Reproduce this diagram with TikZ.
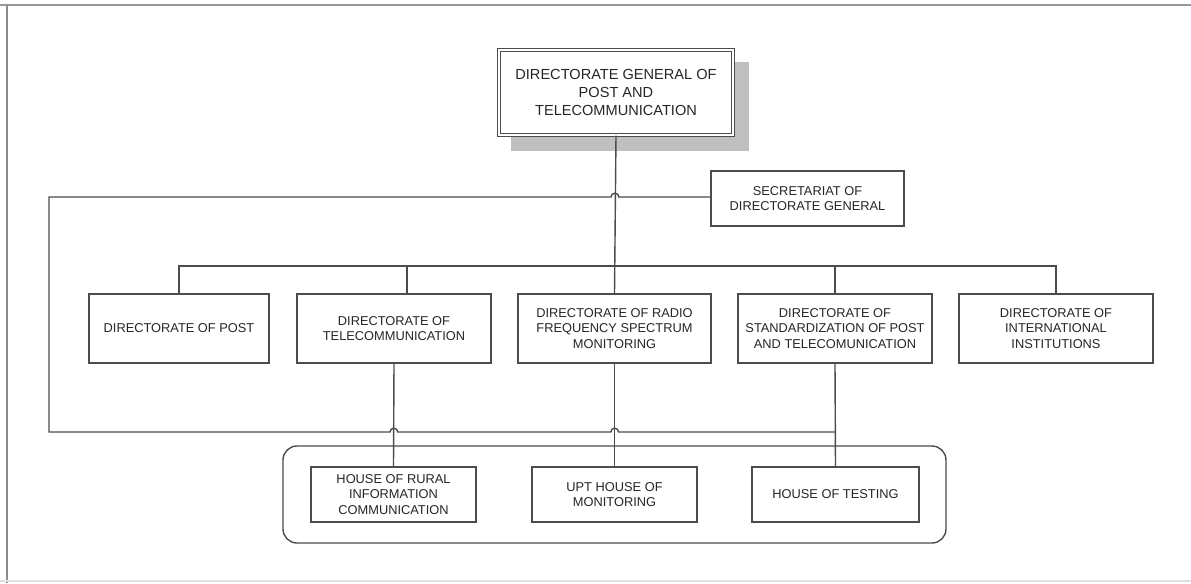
\documentclass[tikz,border=0pt]{standalone}
\usepackage{fontspec}
\setmainfont{Liberation Sans}
\begin{document}
\begin{tikzpicture}[x=0.02cm,y=-0.02cm,
  line width=0.8pt,
  ink/.style={draw=black!70},
  unitbox/.style={ink, fill=white, rectangle, align=center, inner sep=1pt,
    text=black!85, font=\fontsize{7.3}{9}\selectfont},
  headbox/.style={draw=black!70, double, double distance=1.4pt, line width=0.65pt,
    fill=white, rectangle, align=center, text=black!85,
    font=\fontsize{8.3}{10.2}\selectfont},
  link/.style={draw=black!70},
]
\useasboundingbox (0,0) rectangle (1191,583);
% page frame
\draw[black!40, line width=1.3pt] (0,5) -- (1191,5);
\draw[black!45, line width=1.1pt] (7,5) -- (7,583);
\draw[black!12, line width=0.8pt] (0,581) -- (1191,581);

% head of the organisation, with its drop shadow
\fill[black!25] (511,62) rectangle (749,151);
\node[headbox, minimum width=4.68cm, minimum height=1.70cm] (top) at (616,92.5)
  {DIRECTORATE GENERAL OF\\POST AND\\TELECOMMUNICATION};

% secretariat
\node[unitbox, minimum width=3.86cm, minimum height=1.10cm] (sec) at (807.5,198.5)
  {SECRETARIAT OF\\DIRECTORATE GENERAL};

% directorates
\node[unitbox, minimum width=3.60cm, minimum height=1.38cm] (d1) at (179,328.5)
  {DIRECTORATE OF POST};
\node[unitbox, minimum width=3.88cm, minimum height=1.38cm] (d2) at (394,328.5)
  {DIRECTORATE OF\\TELECOMMUNICATION};
\node[unitbox, minimum width=3.86cm, minimum height=1.38cm] (d3) at (614.5,328.5)
  {DIRECTORATE OF RADIO\\FREQUENCY SPECTRUM\\MONITORING};
\node[unitbox, minimum width=3.88cm, minimum height=1.38cm] (d4) at (835,328.5)
  {DIRECTORATE OF\\STANDARDIZATION OF POST\\AND TELECOMUNICATION};
\node[unitbox, minimum width=3.88cm, minimum height=1.38cm] (d5) at (1056,328.5)
  {DIRECTORATE OF\\INTERNATIONAL\\INSTITUTIONS};

% technical units group
\draw[ink, rounded corners=0.28cm] (283,446) rectangle (946,543);
\node[unitbox, minimum width=3.30cm, minimum height=1.10cm] (h1) at (393.5,494.5)
  {HOUSE OF RURAL\\INFORMATION\\COMMUNICATION};
\node[unitbox, minimum width=3.30cm, minimum height=1.10cm] (h2) at (614.5,494.5)
  {UPT HOUSE OF\\MONITORING};
\node[unitbox, minimum width=3.34cm, minimum height=1.10cm] (h3) at (835.5,494.5)
  {HOUSE OF TESTING};

% connectors
\coordinate (bus) at (614.5,266);
\draw[link] (top.south) -- (d3.north);
\draw[link] (d1.north) -- (d1.north |- bus) -- (d5.north |- bus) -- (d5.north);
\draw[link] (d4.north) -- (d4.north |- bus);
\draw[link] ([xshift=0.26cm]d2.north) -- ([xshift=0.26cm]d2.north |- bus);
\draw[link] (d2.south) -- (h1.north);
\draw[link] (d3.south) -- (h2.north);
\draw[link] (d4.south) -- (h3.north);

% secretariat loop, hopping over the vertical lines it crosses
\coordinate (loopend) at (h3.north |- 0,432);
\draw[link] (sec.west |- 0,197) -- (618.8,197)
  arc[start angle=0, end angle=180, radius=2.2pt]
  -- (49,197) -- (49,432) -- (390,432)
  arc[start angle=180, end angle=0, radius=2.2pt]
  -- (610.8,432)
  arc[start angle=180, end angle=0, radius=2.2pt]
  -- (loopend);
\end{tikzpicture}
\end{document}
